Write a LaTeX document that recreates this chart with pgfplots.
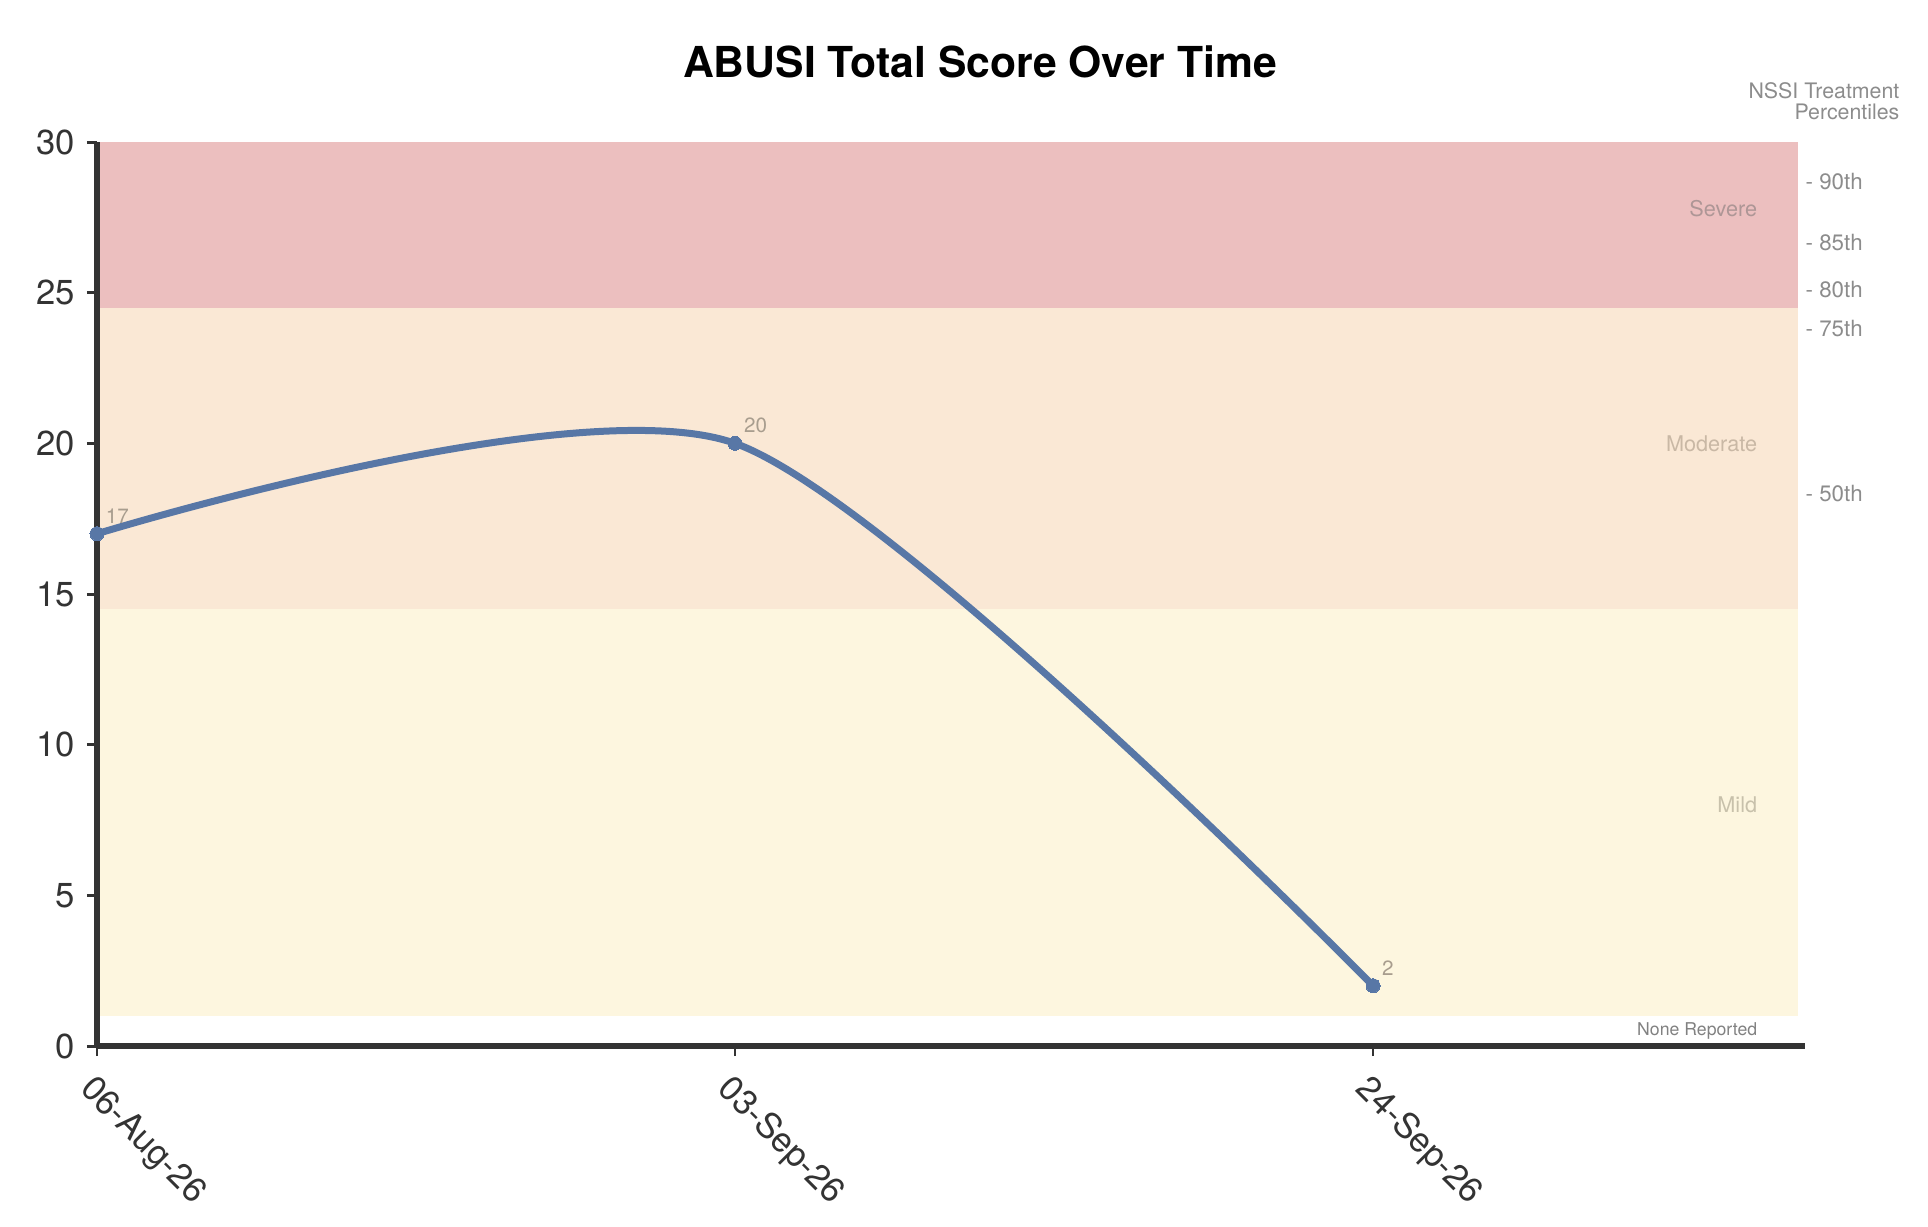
\documentclass[border=0pt]{standalone}
\usepackage{fontspec}
\setmainfont{TeX Gyre Heros}
\usepackage{pgfplots}
\pgfplotsset{compat=1.18}

\definecolor{sev}{HTML}{ECBFBF}
\definecolor{mod}{HTML}{FAE8D5}
\definecolor{mild}{HTML}{FDF6DF}
\definecolor{scoreline}{HTML}{5877A6}
\definecolor{axc}{HTML}{333333}
\definecolor{sevlab}{HTML}{AE9696}
\definecolor{modlab}{HTML}{C9B8A5}
\definecolor{mildlab}{HTML}{C8C1AB}
\definecolor{pct}{HTML}{8C8C8C}
\definecolor{ptlab}{HTML}{A89D8E}

\begin{document}
\begin{tikzpicture}
\begin{axis}[
  set layers,
  scale only axis,
  width=512.4pt, height=271.2pt,
  xmin=0, xmax=2.677,
  ymin=0, ymax=30,
  axis lines*=left,
  axis line style={line width=2pt, color=axc},
  xtick={0,1,2},
  xticklabels={06-Aug-26,03-Sep-26,24-Sep-26},
  ytick={0,5,10,15,20,25,30},
  tick align=outside,
  major tick length=3pt,
  x tick style={line width=0.4pt, color=axc},
  y tick style={line width=0.9pt, color=axc},
  tick label style={font=\fontsize{10.4}{12}\selectfont, text=axc},
  x tick label style={rotate=-45, anchor=north west},
  /pgf/number format/assume math mode=true,
  clip=false,
]

% severity bands
\begin{pgfonlayer}{axis background}
  \fill[sev]  (axis cs:0,24.5) rectangle (axis cs:2.666,30);
  \fill[mod]  (axis cs:0,14.5) rectangle (axis cs:2.666,24.5);
  \fill[mild] (axis cs:0,1)    rectangle (axis cs:2.666,14.5);
\end{pgfonlayer}

\node[anchor=east, inner sep=0, text=sevlab, font=\fontsize{6.5}{8}\selectfont]  at (axis cs:2.603,27.8) {Severe};
\node[anchor=east, inner sep=0, text=modlab, font=\fontsize{6.5}{8}\selectfont]  at (axis cs:2.603,20.0) {Moderate};
\node[anchor=east, inner sep=0, text=mildlab, font=\fontsize{6.5}{8}\selectfont] at (axis cs:2.603,8.0)  {Mild};
\node[anchor=east, inner sep=0, text=pct!110, font=\fontsize{5.3}{7}\selectfont] at (axis cs:2.603,0.5)  {None Reported};

% percentile marks on the right
\node[anchor=west, inner sep=0, text=pct, font=\fontsize{6.7}{8}\selectfont] at (axis cs:2.677,28.68) {- 90th};
\node[anchor=west, inner sep=0, text=pct, font=\fontsize{6.7}{8}\selectfont] at (axis cs:2.677,26.68) {- 85th};
\node[anchor=west, inner sep=0, text=pct, font=\fontsize{6.7}{8}\selectfont] at (axis cs:2.677,25.12) {- 80th};
\node[anchor=west, inner sep=0, text=pct, font=\fontsize{6.7}{8}\selectfont] at (axis cs:2.677,23.80) {- 75th};
\node[anchor=west, inner sep=0, text=pct, font=\fontsize{6.7}{8}\selectfont] at (axis cs:2.677,18.35) {- 50th};

\addplot[
  color=scoreline, line width=2.1pt, smooth, tension=0.45,
  mark=*, mark size=2.1pt,
  mark options={fill=scoreline, draw=scoreline, line width=0pt},
  nodes near coords,
  every node near coord/.append style={anchor=west, inner sep=0,
    xshift=2.7pt, yshift=5.4pt, text=ptlab, font=\fontsize{6.2}{7}\selectfont},
] coordinates {(0,17) (1,20) (2,2)};

\end{axis}

\node[font=\bfseries\fontsize{12.8}{15}\selectfont] at (264.9pt,295.2pt) {ABUSI Total Score Over Time};
\node[anchor=east, align=right, inner sep=0, text=pct, font=\fontsize{6.4}{6.3}\selectfont]
  at (540.9pt,283.4pt) {NSSI Treatment\\Percentiles};

% page size: 1928 x 1226 px at 0.3pt per px, origin at data (0,0)
\pgfresetboundingbox
\path[use as bounding box] (-29.1pt,-54pt) rectangle (549.3pt,313.8pt);
\end{tikzpicture}
\end{document}
